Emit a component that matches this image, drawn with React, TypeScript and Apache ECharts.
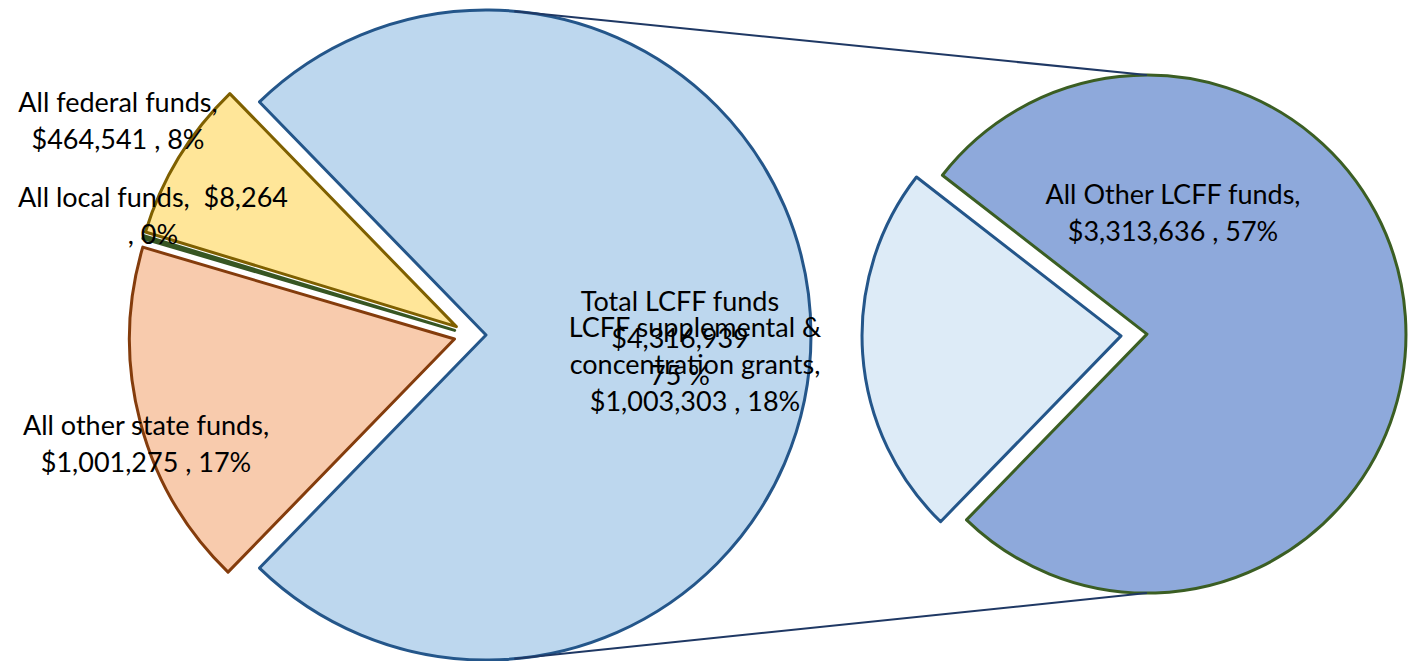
import React, { useEffect, useRef } from "react";
import * as echarts from "echarts";

// ---- Data ----
const leftNames = ["Total LCFF funds", "All other state funds", "All local funds", "All federal funds"];
const leftValues = [4316939, 1001275, 8264, 464541];
const leftPercents = [75, 17, 0, 8];

const rightNames = ["All Other LCFF funds", "LCFF supplemental &\nconcentration grants"];
const rightValues = [3313636, 1003303];
const rightPercents = [57, 18];

// ---- Label templates ({b}=name, {v}=value, {p}=percent) ----
const leftTemplates = ["{b}\n{v}\n{p} %", "{b},\n{v} , {p}%", "{b},  {v}\n, {p}%", "{b},\n{v} , {p}%"];
const rightTemplates = ["{b},\n{v} , {p}%", "{b},\n{v} , {p}%"];

// ---- Styles / layout ----
const leftFills = ["#BDD7EE", "#F8CBAD", "#70AD47", "#FFE699"];
const leftBorders = ["#24568A", "#843C0C", "#375623", "#7F6000"];
const rightFills = ["#8EA9DB", "#DDEBF7"];
const rightBorders = ["#3B5E23", "#24568A"];

const leftLabelPos = [[680, 337], [146, 443], [153, 215], [118, 120]];
const rightLabelPos = [[1173, 212], [695, 363]];

const L_CENTER = [470, 335];
const L_R = 325;
const L_OFF = 16;
const R_CENTER = [1134, 335];
const R_R = 259;
const R_OFF = 13;
const R_MID_ANGLE = 4; // mid angle of the large slice of the secondary pie
const CONNECT_ANGLE = 85;

const FONT = "Lato";
const FONT_SIZE = 27;
const LINE_HEIGHT = 37;

function fmtMoney(v: number) {
  return "$" + v.toLocaleString("en-US");
}

function fill(t: string, name: string, v: number, p: number) {
  return t.replace("{b}", name).replace("{v}", fmtMoney(v)).replace("{p}", String(p));
}

export default function App() {
  const ref = useRef<HTMLDivElement>(null);

  useEffect(() => {
    if (!ref.current) return;
    const chart = echarts.init(ref.current, undefined, { renderer: "svg" });

    const leftSum = leftValues.reduce((a, b) => a + b, 0);
    const leftStart = (leftValues[0] / leftSum) * 180; // big slice centred on 0°
    const rightSum = rightValues.reduce((a, b) => a + b, 0);
    const rightStart = R_MID_ANGLE + (rightValues[0] / rightSum) * 180;

    const deg = Math.PI / 180;
    const bigCx = L_CENTER[0] + L_OFF;
    const bigCy = L_CENTER[1];
    const rCx = R_CENTER[0] + R_OFF * Math.cos(R_MID_ANGLE * deg);
    const rCy = R_CENTER[1] - R_OFF * Math.sin(R_MID_ANGLE * deg);
    const lxTop = bigCx + L_R * Math.cos(CONNECT_ANGLE * deg);
    const lyTop = bigCy - L_R * Math.sin(CONNECT_ANGLE * deg);
    const lyBot = bigCy + L_R * Math.sin(CONNECT_ANGLE * deg);

    const textEl = (text: string, pos: number[]) => ({
      type: "text",
      z: 100,
      x: pos[0],
      y: pos[1],
      style: {
        text,
        fill: "#000",
        fontFamily: FONT,
        fontSize: FONT_SIZE,
        lineHeight: LINE_HEIGHT,
        align: "center",
        verticalAlign: "middle",
      },
    });

    const labels = [
      ...leftValues.map((v, i) =>
        textEl(fill(leftTemplates[i], leftNames[i], v, leftPercents[i]), leftLabelPos[i])
      ),
      ...rightValues.map((v, i) =>
        textEl(fill(rightTemplates[i], rightNames[i], v, rightPercents[i]), rightLabelPos[i])
      ),
    ];

    const pieSeries = (
      center: number[],
      r: number,
      start: number,
      off: number,
      names: string[],
      values: number[],
      fills: string[],
      borders: string[]
    ) => ({
      type: "pie",
      center,
      radius: [0, r],
      startAngle: start,
      clockwise: true,
      selectedMode: "multiple",
      selectedOffset: off,
      avoidLabelOverlap: false,
      emphasis: { disabled: true },
      label: { show: false },
      labelLine: { show: false },
      data: values.map((v, i) => {
        const st = { color: fills[i], borderColor: borders[i], borderWidth: 3 };
        return { name: names[i], value: v, selected: true, itemStyle: st, select: { itemStyle: st } };
      }),
    });

    const option: any = {
      animation: false,
      backgroundColor: "#fff",
      graphic: [
        {
          type: "line",
          z: 10,
          shape: { x1: lxTop, y1: lyTop, x2: rCx, y2: rCy - R_R },
          style: { stroke: "#1F3864", lineWidth: 2 },
        },
        {
          type: "line",
          z: 10,
          shape: { x1: lxTop, y1: lyBot, x2: rCx, y2: rCy + R_R },
          style: { stroke: "#1F3864", lineWidth: 2 },
        },
        ...labels,
      ],
      series: [
        pieSeries(L_CENTER, L_R, leftStart, L_OFF, leftNames, leftValues, leftFills, leftBorders),
        pieSeries(R_CENTER, R_R, rightStart, R_OFF, rightNames, rightValues, rightFills, rightBorders),
      ],
    };

    chart.setOption(option);
    return () => chart.dispose();
  }, []);

  return (
    <div
      ref={ref}
      style={{ position: "fixed", left: 0, top: 0, width: 1410, height: 661 }}
    />
  );
}
